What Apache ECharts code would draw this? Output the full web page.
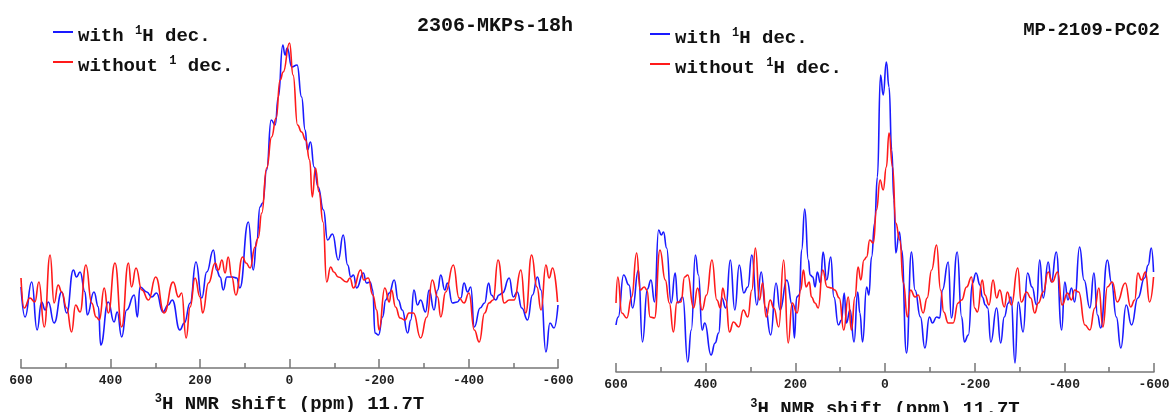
<!DOCTYPE html>
<html>
<head>
<meta charset="utf-8">
<script src="https://cdn.jsdelivr.net/npm/echarts@6/dist/echarts.min.js"></script>
<style>
  html, body { margin: 0; padding: 0; background: #fff; }
  #chart { width: 1171px; height: 412px; }
</style>
</head>
<body>
<div id="chart"></div>
<script>
// ---- data: [chemical shift (ppm), intensity (a.u.)] ----
const ppmMin = -600, ppmMax = 600, ppmStep = 200;

const leftTitle = '2306-MKPs-18h';
const rightTitle = 'MP-2109-PC02';

const leftBlue = [[600,13],[591,-17],[576,18],[564,-30],[554,-2],[546,-10],[539,-2],[526,-23],[509,8],[498,-13],[483,30],[476,23],[468,28],[457,8],[452,-15],[437,8],[427,-7],[422,-45],[405,-2],[392,-22],[385,-12],[375,-37],[364,-10],[347,5],[340,-17],[334,13],[319,8],[308,3],[297,7],[283,-12],[271,-5],[262,0],[245,-30],[235,-23],[222,-3],[209,38],[196,2],[185,28],[170,50],[163,30],[155,23],[148,10],[140,23],[127,23],[118,22],[111,12],[92,78],[81,30],[73,60],[66,93],[60,97],[51,130],[41,180],[32,175],[25,203],[15,255],[10,245],[5,252],[-5,233],[-17,235],[-27,203],[-35,170],[-40,150],[-47,158],[-55,133],[-64,113],[-76,90],[-85,60],[-96,66],[-109,40],[-120,65],[-130,35],[-137,23],[-143,25],[-150,12],[-165,27],[-172,17],[-180,18],[-186,10],[-191,-33],[-199,-35],[-208,-17],[-215,0],[-223,7],[-234,20],[-243,0],[-252,-10],[-264,-33],[-271,-20],[-278,10],[-286,-5],[-293,0],[-304,-12],[-312,10],[-323,-10],[-331,10],[-338,25],[-347,10],[-353,17],[-364,-3],[-375,-2],[-383,2],[-390,17],[-398,8],[-405,13],[-413,-27],[-426,-8],[-436,-3],[-445,17],[-451,5],[-461,0],[-468,5],[-476,7],[-491,22],[-500,3],[-509,8],[-519,-8],[-532,-20],[-543,5],[-554,23],[-562,10],[-573,-52],[-582,-23],[-591,-28],[-600,-5]];

const leftRed = [[600,22],[593,-8],[580,2],[569,-2],[560,18],[548,-27],[535,45],[526,-3],[517,15],[509,8],[498,-8],[487,-32],[478,-5],[468,-12],[455,35],[442,-3],[432,-17],[425,-20],[414,12],[405,-13],[390,37],[375,-27],[360,37],[353,13],[343,32],[330,10],[315,0],[299,23],[280,-13],[260,18],[248,3],[241,7],[231,-38],[222,-7],[211,22],[200,3],[194,-13],[181,17],[166,37],[159,30],[151,40],[144,27],[137,43],[129,23],[120,5],[105,43],[97,37],[88,32],[77,53],[70,62],[62,87],[51,132],[40,163],[30,182],[21,220],[14,228],[0,257],[-8,225],[-18,175],[-27,168],[-36,160],[-45,140],[-51,103],[-58,132],[-66,108],[-75,78],[-83,18],[-92,33],[-99,28],[-109,23],[-128,18],[-135,22],[-143,12],[-159,30],[-166,20],[-176,22],[-186,5],[-195,-10],[-200,-30],[-213,12],[-223,-2],[-228,10],[-237,-7],[-247,-18],[-258,-20],[-267,-13],[-277,-13],[-293,-38],[-307,-17],[-319,20],[-331,3],[-338,-17],[-349,8],[-366,35],[-379,2],[-390,-3],[-401,7],[-413,-30],[-424,-42],[-436,-13],[-446,-3],[-455,0],[-466,40],[-480,-3],[-491,0],[-502,0],[-517,30],[-528,-13],[-541,45],[-553,13],[-562,-10],[-573,35],[-580,22],[-588,32],[-599,-2]];

const rightBlue = [[600,-25],[595,-17],[583,25],[571,15],[563,-8],[550,30],[541,-42],[530,11],[522,20],[514,-2],[505,70],[499,65],[494,68],[487,52],[477,-3],[468,27],[462,-3],[451,3],[440,-62],[432,-30],[423,45],[416,25],[408,-30],[402,-23],[388,-55],[379,-43],[371,-33],[364,2],[355,-8],[345,40],[335,-10],[325,35],[315,7],[306,13],[297,45],[286,-5],[276,28],[267,-7],[255,-35],[243,17],[234,-10],[219,20],[207,-5],[202,-38],[197,3],[191,5],[186,50],[179,91],[171,40],[167,25],[161,23],[156,13],[151,28],[144,17],[138,48],[130,20],[121,43],[114,3],[104,-25],[97,-20],[91,7],[86,-23],[78,-10],[69,-42],[61,8],[56,-13],[50,-42],[41,13],[36,5],[30,43],[23,77],[17,123],[10,225],[4,205],[-3,238],[-9,213],[-15,150],[-20,100],[-24,47],[-32,68],[-37,50],[-48,-53],[-59,48],[-67,10],[-79,-17],[-89,-48],[-99,-17],[-106,-23],[-115,-17],[-122,-18],[-128,10],[-141,38],[-148,-18],[-161,48],[-171,-17],[-177,-42],[-186,-35],[-195,17],[-203,27],[-212,15],[-217,3],[-224,-5],[-229,-8],[-236,-42],[-249,-8],[-258,-43],[-266,-17],[-275,-3],[-281,3],[-290,-63],[-297,-2],[-308,-32],[-318,27],[-328,13],[-338,-5],[-345,40],[-353,2],[-364,38],[-371,18],[-382,48],[-394,-30],[-401,18],[-408,0],[-416,12],[-423,-2],[-434,53],[-444,20],[-457,-8],[-466,27],[-474,-15],[-481,-28],[-496,40],[-505,18],[-516,-17],[-526,-48],[-538,-5],[-550,-25],[-564,2],[-579,22],[-587,35],[-594,52],[-599,28]];

const rightRed = [[600,-3],[596,23],[587,-13],[576,-18],[565,3],[554,47],[546,10],[537,13],[531,10],[524,-17],[514,-18],[502,50],[490,20],[481,-3],[472,-32],[464,-2],[455,-2],[447,23],[440,25],[427,-8],[418,12],[408,-10],[398,5],[386,40],[375,0],[367,-8],[362,12],[355,0],[347,-32],[338,-22],[326,-27],[316,-10],[306,-17],[297,10],[289,52],[280,0],[273,17],[265,-17],[256,0],[248,-8],[237,-27],[226,40],[216,-43],[207,-3],[196,-13],[188,10],[182,30],[176,13],[169,18],[164,3],[156,-3],[149,-8],[139,30],[129,13],[119,12],[112,10],[102,2],[92,-30],[82,3],[75,-30],[67,3],[60,33],[54,20],[47,40],[41,43],[34,60],[26,57],[19,90],[11,120],[4,110],[-3,133],[-9,167],[-17,133],[-24,77],[-33,60],[-41,17],[-50,-17],[-57,10],[-67,3],[-74,5],[-85,-13],[-94,2],[-104,30],[-115,55],[-124,10],[-131,-12],[-141,-23],[-152,-23],[-163,-3],[-171,0],[-182,13],[-193,23],[-200,-8],[-206,-12],[-217,20],[-223,5],[-232,-5],[-241,20],[-249,2],[-256,10],[-266,-7],[-273,8],[-282,-5],[-296,32],[-304,-2],[-316,8],[-325,2],[-334,-13],[-342,-3],[-353,8],[-364,28],[-373,18],[-385,28],[-395,-5],[-407,7],[-416,0],[-423,10],[-432,8],[-446,-25],[-457,-30],[-468,-8],[-477,12],[-486,-27],[-496,13],[-507,18],[-518,-2],[-536,17],[-548,-7],[-557,0],[-564,27],[-572,20],[-581,28],[-590,-2],[-599,23]];

// legend labels (rich text with superscripts)
const legendText = {
  'L-with':    '{n|with }{sup|1}{n|H dec.}',
  'L-without': '{n|without }{sup|1}{n| dec.}',
  'R-with':    '{n|with }{sup|1}{n|H dec.}',
  'R-without': '{n|without }{sup|1}{n|H dec.}'
};
const axisTitle = '{sup|3}{n|H NMR shift (ppm) 11.7T}';

// ---- chart ----
const FONT = '"Liberation Mono", "Courier New", monospace';
const BLUE = '#1a1aff', RED = '#ff1a1a';
const richText = {
  n:   { fontFamily: FONT, fontWeight: 'bold', fontSize: 19, color: '#111', lineHeight: 22 },
  sup: { fontFamily: FONT, fontWeight: 'bold', fontSize: 12, color: '#111', verticalAlign: 'top', lineHeight: 22, padding: [0, 0, 10, 0] }
};

function xAxisCfg(gridIndex, nameGap) {
  return {
    gridIndex, type: 'value', min: ppmMin, max: ppmMax, interval: ppmStep, inverse: true,
    axisLine: { show: true, onZero: false, lineStyle: { color: '#777', width: 1.5 } },
    axisTick: { show: true, inside: true, length: 9, lineStyle: { color: '#777', width: 1.5 } },
    minorTick: { show: true, splitNumber: 2, length: 5, lineStyle: { color: '#777', width: 1.5 } },
    splitLine: { show: false }, minorSplitLine: { show: false },
    axisLabel: { fontFamily: FONT, fontWeight: 'bold', fontSize: 13, color: '#222', margin: 6 },
    name: axisTitle, nameLocation: 'middle', nameGap,
    nameTextStyle: { rich: richText }
  };
}
function yAxisCfg(gridIndex, min, max) {
  return { gridIndex, type: 'value', min, max, show: false, splitLine: { show: false } };
}
function lineSeries(name, idx, data, color) {
  return {
    name, type: 'line', xAxisIndex: idx, yAxisIndex: idx, data,
    showSymbol: false, smooth: 0.5, smoothMonotone: 'x',
    lineStyle: { color, width: 1.6 }, itemStyle: { color },
    animation: false, z: color === RED ? 3 : 2
  };
}
function legendCfg(left, top, names) {
  return {
    left, top, orient: 'vertical', itemGap: 8, itemWidth: 20, itemHeight: 2,
    icon: 'rect', data: names, selectedMode: false,
    formatter: (n) => legendText[n],
    textStyle: { rich: richText, padding: [8, 0, 0, 0] }
  };
}

const chart = echarts.init(document.getElementById('chart'), null, { renderer: 'canvas' });
chart.setOption({
  backgroundColor: '#ffffff',
  animation: false,
  title: [
    { text: leftTitle, right: 593, top: 11, textStyle: { fontFamily: FONT, fontWeight: 'bold', fontSize: 20, color: '#111' } },
    { text: rightTitle, right: 6, top: 16, textStyle: { fontFamily: FONT, fontWeight: 'bold', fontSize: 19, color: '#111' } }
  ],
  legend: [
    legendCfg(48, 20, ['L-with', 'L-without']),
    legendCfg(645, 22, ['R-with', 'R-without'])
  ],
  grid: [
    { left: 21, width: 537, top: 30, bottom: 44, outerBoundsMode: 'none', containLabel: false },
    { left: 616, width: 538, top: 30, bottom: 40, outerBoundsMode: 'none', containLabel: false }
  ],
  xAxis: [xAxisCfg(0, 25), xAxisCfg(1, 26)],
  yAxis: [yAxisCfg(0, -68, 270), yAxisCfg(1, -72, 270)],
  series: [
    lineSeries('L-with', 0, leftBlue, BLUE),
    lineSeries('L-without', 0, leftRed, RED),
    lineSeries('R-with', 1, rightBlue, BLUE),
    lineSeries('R-without', 1, rightRed, RED)
  ]
});
</script>
</body>
</html>
